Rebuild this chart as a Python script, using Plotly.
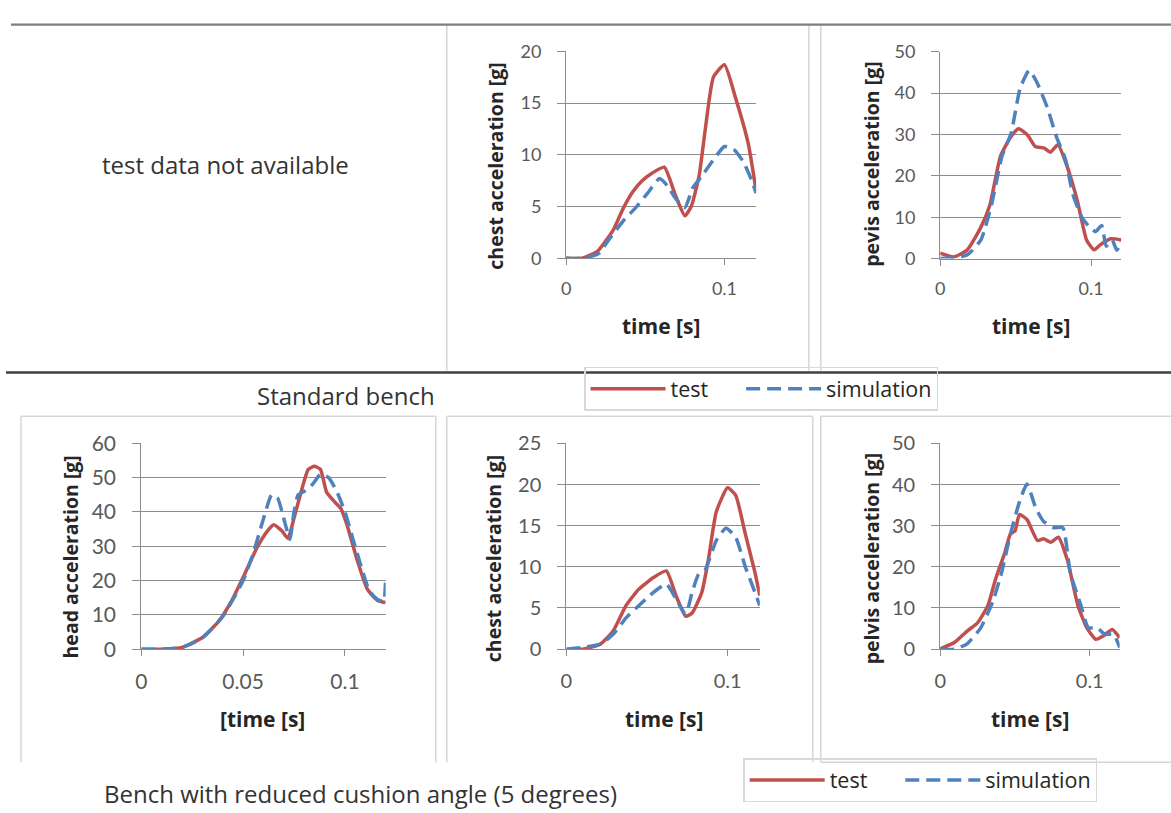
import plotly.graph_objects as go

W, H = 1171, 813

# ---------------- data ----------------
# Standard bench - chest
tc_test_t = [0, 0.01, 0.02, 0.03, 0.036, 0.042, 0.048, 0.054, 0.062, 0.069, 0.075, 0.079, 0.084, 0.088, 0.093, 0.1, 0.107, 0.115, 0.12]
tc_test_v = [0, 0, 0.7, 2.8, 4.8, 6.4, 7.5, 8.2, 8.8, 6.1, 4.1, 5.0, 8.0, 12.6, 17.5, 18.7, 15.5, 11.1, 6.5]
tc_sim_t = [0, 0.01, 0.02, 0.028, 0.036, 0.044, 0.052, 0.059, 0.064, 0.069, 0.075, 0.08, 0.086, 0.092, 0.1, 0.106, 0.112, 0.117, 0.12]
tc_sim_v = [0, 0, 0.4, 2.0, 3.6, 4.9, 6.4, 7.7, 7.0, 5.8, 4.9, 6.8, 8.0, 9.3, 10.8, 10.5, 9.3, 7.6, 6.3]

# Standard bench - pelvis
tp_test_t = [0, 0.009, 0.018, 0.027, 0.033, 0.04, 0.047, 0.052, 0.058, 0.063, 0.069, 0.073, 0.078, 0.084, 0.091, 0.097, 0.102, 0.106, 0.113, 0.12]
tp_test_v = [1.3, 0.4, 2.1, 7.6, 13, 24.8, 29.5, 31.4, 29.8, 27.1, 26.7, 25.7, 27.5, 22.4, 13.8, 4.5, 2.1, 3.3, 4.8, 4.5]
tp_sim_t = [0, 0.009, 0.018, 0.027, 0.034, 0.041, 0.047, 0.053, 0.059, 0.064, 0.071, 0.077, 0.083, 0.088, 0.094, 0.099, 0.103, 0.107, 0.11, 0.114, 0.117, 0.12]
tp_sim_v = [0, 0.2, 0.9, 4.5, 13, 24.8, 30.3, 41.2, 45.5, 42.7, 36.5, 29.5, 24, 15.4, 9.9, 7.6, 6.5, 8, 3, 4.5, 2, 4]

# Reduced cushion angle - head
bh_test_t = [0, 0.01, 0.02, 0.03, 0.038, 0.044, 0.051, 0.057, 0.062, 0.065, 0.069, 0.072, 0.075, 0.078, 0.082, 0.085, 0.088, 0.091, 0.095, 0.098, 0.101, 0.106, 0.111, 0.116, 0.12]
bh_test_v = [0, 0, 0.5, 3.4, 8.1, 13.7, 22.2, 29.8, 34.5, 36.3, 34.5, 32.3, 38.2, 44.8, 52.4, 53.3, 52.4, 45.8, 42.9, 41, 36.3, 26, 17.5, 14.2, 13.6]
bh_sim_t = [0, 0.01, 0.02, 0.03, 0.04, 0.05, 0.055, 0.06, 0.064, 0.067, 0.07, 0.073, 0.075, 0.077, 0.08, 0.084, 0.088, 0.092, 0.096, 0.1, 0.104, 0.108, 0.112, 0.116, 0.119, 0.12]
bh_sim_v = [0, 0, 0.5, 3.3, 9.5, 20, 28, 38, 45, 44, 38, 32, 40, 45, 46, 48, 51, 50, 46, 40, 32, 24, 17, 14.5, 14, 21]

# Reduced cushion angle - chest
bc_test_t = [0, 0.01, 0.021, 0.029, 0.037, 0.045, 0.054, 0.062, 0.068, 0.074, 0.078, 0.084, 0.088, 0.093, 0.1, 0.105, 0.111, 0.117, 0.12]
bc_test_v = [0, 0, 0.6, 2.2, 5.3, 7.3, 8.7, 9.5, 6.5, 4.0, 4.4, 6.9, 10.8, 16.7, 19.6, 18.7, 14, 9.3, 6.5]
bc_sim_t = [0, 0.01, 0.021, 0.029, 0.037, 0.045, 0.054, 0.062, 0.068, 0.074, 0.078, 0.082, 0.086, 0.093, 0.099, 0.105, 0.111, 0.117, 0.12]
bc_sim_v = [0, 0.2, 0.6, 1.8, 3.8, 5.3, 6.9, 7.9, 6.1, 4.2, 6.9, 9.1, 9.6, 13.2, 14.7, 13.6, 10, 6.9, 5.3]

# Reduced cushion angle - pelvis
bp_test_t = [0, 0.0095, 0.018, 0.025, 0.032, 0.037, 0.043, 0.047, 0.05, 0.053, 0.058, 0.065, 0.069, 0.074, 0.079, 0.085, 0.092, 0.098, 0.104, 0.109, 0.115, 0.12]
bp_test_v = [0.1, 1.6, 4.4, 6.4, 10.7, 17, 23.2, 28, 28.7, 32.7, 31.5, 26.4, 26.8, 26, 27.2, 21.7, 10.7, 5.2, 2.4, 3.2, 4.8, 2.8]
bp_sim_t = [0, 0.0095, 0.018, 0.027, 0.035, 0.041, 0.047, 0.053, 0.058, 0.064, 0.069, 0.076, 0.082, 0.087, 0.094, 0.099, 0.105, 0.11, 0.116, 0.12]
bp_sim_v = [0, 0, 1.3, 5.1, 11.4, 18.5, 28, 35.8, 40.1, 34.2, 31.1, 29.5, 29.5, 18.5, 10.7, 5.2, 5.2, 3.6, 3.6, 0.4]

series_names = ["test", "simulation"]
y_titles = ["chest acceleration [g]", "pevis acceleration [g]", "head acceleration [g]",
            "chest acceleration [g]", "pelvis acceleration [g]"]
x_titles = ["time [s]", "time [s]", "[time [s]", "time [s]", "time [s]"]
y_max = [20, 50, 60, 25, 50]
y_dtick = [5, 10, 10, 5, 10]
x_dtick = [0.1, 0.1, 0.05, 0.1, 0.1]

# ---------------- styling / layout ----------------
RED = "#C0504D"
BLUE = "#4F81BD"
GRID = "#8C8C8C"
TICKFONT = "Lato"
TXTFONT = "Open Sans"
tick_sizes = [18, 18, 21, 20, 20]
LEGEND_GAP = "\u00a0" * 5   # visual spacing after the first legend entry

# plot-area boxes in pixels: (left, right, top, bottom)
boxes = [(563, 754, 38.5, 252), (939, 1121, 39, 252.3), (136, 381.6, 443, 655.3),
         (563.3, 757.7, 443, 655.3), (939, 1119.4, 443, 655.3)]
ytitle_pos = [(492, 157), (870, 155), (65, 560), (490, 562), (870, 562)]
xtitle_pos = [(658, 322), (1030, 322), (258, 727), (661, 727), (1029, 727)]

data_sets = [
    (tc_test_t, tc_test_v, tc_sim_t, tc_sim_v),
    (tp_test_t, tp_test_v, tp_sim_t, tp_sim_v),
    (bh_test_t, bh_test_v, bh_sim_t, bh_sim_v),
    (bc_test_t, bc_test_v, bc_sim_t, bc_sim_v),
    (bp_test_t, bp_test_v, bp_sim_t, bp_sim_v),
]

fig = go.Figure()
layout = dict(width=W, height=H, margin=dict(l=0, r=0, t=0, b=0),
              paper_bgcolor="white", plot_bgcolor="white",
              font=dict(family=TICKFONT, size=18, color="#595959"))

def px_x(x):
    return x / W

def px_y(y):
    return 1 - y / H

annotations = []
for i, (tt, tv, st, sv) in enumerate(data_sets):
    n = "" if i == 0 else str(i + 1)
    xa, ya = "x" + n, "y" + n
    legend_name = None
    show = False
    if i == 0:
        legend_name, show = "legend", True
    elif i == 3:
        legend_name, show = "legend2", True
    tr_kw = dict(xaxis=xa, yaxis=ya, mode="lines", showlegend=show)
    if legend_name:
        tr_kw["legend"] = legend_name
    fig.add_trace(go.Scatter(x=tt, y=tv, name=series_names[0] + LEGEND_GAP,
                             line=dict(color=RED, width=3.5, shape="spline", smoothing=0.5), **tr_kw))
    fig.add_trace(go.Scatter(x=st, y=sv, name=series_names[1],
                             line=dict(color=BLUE, width=3.5, dash="14px,7px", shape="spline", smoothing=0.5), **tr_kw))
    l, r, t, b = boxes[i]
    tf = dict(family=TICKFONT, size=tick_sizes[i], color="#595959")
    layout["xaxis" + n] = dict(domain=[px_x(l), px_x(r)], range=[0, 0.12], anchor=ya,
                               dtick=x_dtick[i], tick0=0, showgrid=False, zeroline=False,
                               showline=True, linecolor=GRID, linewidth=1.2,
                               ticks="outside", ticklen=6, tickcolor=GRID,
                               ticklabelstandoff=8, fixedrange=True, tickfont=tf)
    layout["yaxis" + n] = dict(domain=[px_y(b), px_y(t)], range=[0, y_max[i]], anchor=xa,
                               dtick=y_dtick[i], tick0=0, showgrid=True, gridcolor=GRID,
                               gridwidth=1.2, zeroline=False, showline=True, linecolor=GRID,
                               linewidth=1.2, ticks="outside", ticklen=8, tickcolor=GRID,
                               ticklabelstandoff=12, fixedrange=True, tickfont=tf)
    yx, yy = ytitle_pos[i]
    annotations.append(dict(text=y_titles[i], x=px_x(yx), y=px_y(yy), xref="paper", yref="paper",
                            showarrow=False, textangle=-90, xanchor="center", yanchor="middle",
                            font=dict(family=TXTFONT, size=19.5, color="#262626", weight="bold")))
    xx, xy = xtitle_pos[i]
    annotations.append(dict(text=x_titles[i], x=px_x(xx), y=px_y(xy), xref="paper", yref="paper",
                            showarrow=False, xanchor="center", yanchor="middle",
                            font=dict(family=TXTFONT, size=21, color="#262626", weight="bold")))

# free text
free_font = dict(family=TXTFONT, size=24, color="#333333")
annotations.append(dict(text="test data not available", x=px_x(221), y=px_y(155), xref="paper", yref="paper",
                        showarrow=False, xanchor="center", yanchor="middle", font=free_font))
annotations.append(dict(text="Standard bench", x=px_x(342), y=px_y(394), xref="paper", yref="paper",
                        showarrow=False, xanchor="center", yanchor="middle", font=free_font))
annotations.append(dict(text="Bench with reduced cushion angle (5 degrees)", x=px_x(356), y=px_y(804),
                        xref="paper", yref="paper", showarrow=False, xanchor="center", yanchor="middle",
                        font=free_font))
layout["annotations"] = annotations

# panel borders and separators
shapes = []
PANEL = "#D6D6D6"
def vline(x, y0, y1, color=PANEL, w=1.5):
    shapes.append(dict(type="line", xref="paper", yref="paper", x0=px_x(x), x1=px_x(x),
                       y0=px_y(y0), y1=px_y(y1), line=dict(color=color, width=w)))
def hline(y, x0, x1, color=PANEL, w=1.5):
    shapes.append(dict(type="line", xref="paper", yref="paper", x0=px_x(x0), x1=px_x(x1),
                       y0=px_y(y), y1=px_y(y), line=dict(color=color, width=w)))

# top row panels
vline(443, 11, 368); vline(807, 11, 368); vline(819, 11, 368)
# bottom row panels
vline(15, 415, 772); vline(432, 415, 772); hline(415, 15, 432)
vline(443, 415, 772); vline(811, 415, 772); hline(415, 443, 811)
vline(819, 415, 772); hline(415, 819, 1171); hline(772, 819, 1171)
# main rules
hline(11, 5, 1171, color="#7F7F7F", w=2.2)
hline(370, 0, 1171, color="#3F3F3F", w=2.5)
layout["shapes"] = shapes

leg_common = dict(orientation="h", xref="paper", yref="paper", xanchor="left",
                  bgcolor="rgba(255,255,255,0)", bordercolor="#D9D9D9", borderwidth=1.5,
                  font=dict(family=TXTFONT, size=21.5, color="#262626"),
                  itemwidth=75, tracegroupgap=0)
layout["legend"] = dict(x=px_x(581), y=px_y(364), yanchor="top", **leg_common)
layout["legend2"] = dict(x=px_x(741), y=0, yanchor="bottom", **leg_common)

fig.update_layout(**layout)
fig.write_html("out.html")
